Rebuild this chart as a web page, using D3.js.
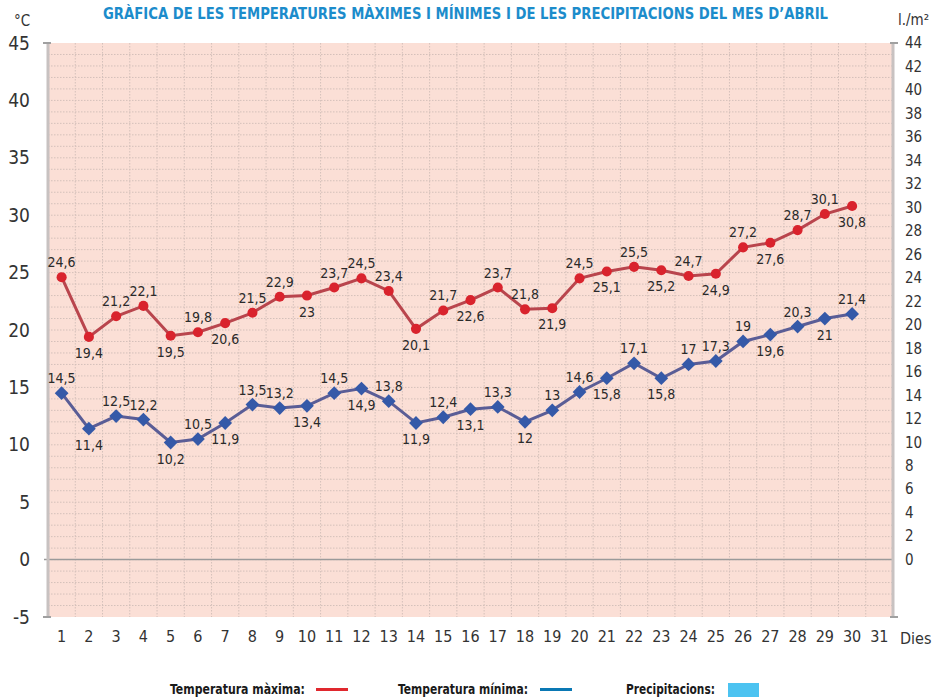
<!DOCTYPE html>
<html>
<head>
<meta charset="utf-8">
<script src="https://cdn.jsdelivr.net/npm/d3@7"></script>
<style>
  body { margin: 0; background: #fff; }
  svg text { font-family: "Liberation Sans Narrow", "DejaVu Sans Condensed", "Roboto", sans-serif; }
</style>
</head>
<body>
<svg id="chart" width="932" height="697"></svg>
<script>
// Days of the month (x categories)
const days = d3.range(1, 32);

// Maximum temperatures (days 1-30)
const tempMax = [24.6, 19.4, 21.2, 22.1, 19.5, 19.8, 20.6, 21.5, 22.9, 23,
                 23.7, 24.5, 23.4, 20.1, 21.7, 22.6, 23.7, 21.8, 21.9, 24.5,
                 25.1, 25.5, 25.2, 24.7, 24.9, 27.2, 27.6, 28.7, 30.1, 30.8];
// label placement: 1 = above, 0 = below
const maxAbove = [1, 0, 1, 1, 0, 1, 0, 1, 1, 0,
                  1, 1, 1, 0, 1, 0, 1, 1, 0, 1,
                  0, 1, 0, 1, 0, 1, 0, 1, 1, 0];

// Minimum temperatures (days 1-30)
const tempMin = [14.5, 11.4, 12.5, 12.2, 10.2, 10.5, 11.9, 13.5, 13.2, 13.4,
                 14.5, 14.9, 13.8, 11.9, 12.4, 13.1, 13.3, 12, 13, 14.6,
                 15.8, 17.1, 15.8, 17, 17.3, 19, 19.6, 20.3, 21, 21.4];
const minAbove = [1, 0, 1, 1, 0, 1, 0, 1, 1, 0,
                  1, 0, 1, 0, 1, 0, 1, 0, 1, 1,
                  0, 1, 0, 1, 1, 1, 0, 1, 0, 1];

// Axis ticks
const tempTicks = [-5, 0, 5, 10, 15, 20, 25, 30, 35, 40, 45];
const rainTicks = d3.range(0, 45, 2);

const legendItems = [
  { label: "Temperatura màxima:", type: "line", color: "#e0282e" },
  { label: "Temperatura mínima:", type: "line", color: "#0a78b4" },
  { label: "Precipitacions:", type: "rect", color: "#4cc3f1" }
];

const svg = d3.select("#chart");
const margin = { top: 43, right: 39, bottom: 80, left: 48 };
const width = 932, height = 697;

const x = d3.scaleBand()
  .domain(days)
  .range([margin.left, width - margin.right])
  .padding(0);

const y = d3.scaleLinear()
  .domain([-5, 45])
  .range([height - margin.bottom, margin.top]);

const yRain = d3.scaleLinear()
  .domain([0, 44])
  .range([y(0), y(45)]);

const cx = d => x(d) + x.bandwidth() / 2;

// Title
svg.append("text")
  .attr("x", 103).attr("y", 19)
  .attr("font-size", 16).attr("font-weight", "bold")
  .attr("fill", "#1c8ccb")
  .attr("textLength", 725).attr("lengthAdjust", "spacingAndGlyphs")
  .text("GRÀFICA DE LES TEMPERATURES MÀXIMES I MÍNIMES I DE LES PRECIPITACIONS DEL MES D’ABRIL");

// Plot background
svg.append("rect")
  .attr("x", margin.left).attr("y", y(45))
  .attr("width", width - margin.right - margin.left)
  .attr("height", y(-5) - y(45))
  .attr("fill", "#fbdfd6");

// Horizontal grid every degree
const grid = svg.append("g");
grid.selectAll(".hg")
  .data(d3.range(-4, 45))
  .join("line")
    .attr("x1", margin.left).attr("x2", width - margin.right)
    .attr("y1", d => y(d)).attr("y2", d => y(d))
    .attr("stroke", "#d4c0ba").attr("stroke-width", 1)
    .attr("stroke-dasharray", "1.5,1.5");

// Vertical grid between days
grid.selectAll(".vg")
  .data(days.slice(1))
  .join("line")
    .attr("x1", d => x(d)).attr("x2", d => x(d))
    .attr("y1", y(45)).attr("y2", y(-5))
    .attr("stroke", "#d4c0ba").attr("stroke-width", 1)
    .attr("stroke-dasharray", "1.5,1.5");

// Zero line
svg.append("line")
  .attr("x1", margin.left - 4).attr("x2", width - margin.right)
  .attr("y1", y(0)).attr("y2", y(0))
  .attr("stroke", "#9a9a9a").attr("stroke-width", 1.5);

// Axis frames
svg.append("line")
  .attr("x1", margin.left).attr("x2", margin.left)
  .attr("y1", y(45)).attr("y2", y(-5))
  .attr("stroke", "#c8c2c1").attr("stroke-width", 3);
svg.append("line")
  .attr("x1", width - margin.right).attr("x2", width - margin.right)
  .attr("y1", y(45)).attr("y2", y(-5))
  .attr("stroke", "#c8c2c1").attr("stroke-width", 3);
[45, -5].forEach(v => {
  svg.append("line")
    .attr("x1", margin.left - 5).attr("x2", margin.left + 3)
    .attr("y1", y(v)).attr("y2", y(v))
    .attr("stroke", "#a0a0a0").attr("stroke-width", 2);
  svg.append("line")
    .attr("x1", width - margin.right - 3).attr("x2", width - margin.right + 5)
    .attr("y1", y(v)).attr("y2", y(v))
    .attr("stroke", "#a0a0a0").attr("stroke-width", 2);
});

// Left axis
const leftAxis = svg.append("g")
  .attr("transform", `translate(${margin.left},0)`)
  .call(d3.axisLeft(y).tickValues(tempTicks).tickFormat(d => String(d)).tickSize(0).tickPadding(18));
leftAxis.select(".domain").remove();
leftAxis.selectAll("text")
  .attr("font-size", 19).attr("fill", "#333")
  .style("font-family", "\"Liberation Sans Narrow\", \"DejaVu Sans Condensed\", sans-serif");

svg.append("text")
  .attr("x", 14).attr("y", 26)
  .attr("font-size", 15).attr("fill", "#333")
  .text("°C");

// Right axis
const rightAxis = svg.append("g")
  .attr("transform", `translate(${width - margin.right},0)`)
  .call(d3.axisRight(yRain).tickValues(rainTicks).tickSize(0).tickPadding(12));
rightAxis.select(".domain").remove();
rightAxis.selectAll("text")
  .attr("font-size", 15).attr("fill", "#333")
  .style("font-family", "\"Liberation Sans Narrow\", \"DejaVu Sans Condensed\", sans-serif");

svg.append("text")
  .attr("x", 898).attr("y", 25)
  .attr("font-size", 15).attr("fill", "#333")
  .text("l./m²");

// Bottom axis
const bottomAxis = svg.append("g")
  .attr("transform", `translate(0,${y(-5)})`)
  .call(d3.axisBottom(x).tickSize(0).tickPadding(14));
bottomAxis.select(".domain").remove();
bottomAxis.selectAll("text")
  .attr("font-size", 16).attr("fill", "#333")
  .style("font-family", "\"Liberation Sans Narrow\", \"DejaVu Sans Condensed\", sans-serif");

svg.append("text")
  .attr("x", 900).attr("y", 644)
  .attr("font-size", 16).attr("fill", "#333")
  .text("Dies");

// Series
const fmt = v => String(v).replace(".", ",");

function drawSeries(values, above, lineColor, markColor, shape) {
  const pts = values.map((v, i) => ({ day: days[i], v, up: above[i] }));
  const line = d3.line().x(d => cx(d.day)).y(d => y(d.v));
  svg.append("path")
    .datum(pts)
    .attr("d", line)
    .attr("fill", "none")
    .attr("stroke", lineColor)
    .attr("stroke-width", 3);

  const sym = d3.symbol().type(shape).size(shape === d3.symbolCircle ? 80 : 95);
  svg.append("g").selectAll("path")
    .data(pts)
    .join("path")
      .attr("transform", d => `translate(${cx(d.day)},${y(d.v)})` + (shape === d3.symbolSquare ? " rotate(45)" : ""))
      .attr("d", sym)
      .attr("fill", markColor);

  svg.append("g").selectAll("text")
    .data(pts)
    .join("text")
      .attr("x", d => cx(d.day))
      .attr("y", d => y(d.v) + (d.up ? -10 : 21))
      .attr("text-anchor", "middle")
      .attr("font-size", 14).attr("fill", "#2a2a2a")
      .text(d => fmt(d.v));
}

drawSeries(tempMax, maxAbove, "#b9454d", "#d9232d", d3.symbolCircle);
drawSeries(tempMin, minAbove, "#5a5d96", "#3559a8", d3.symbolSquare);

// Legend
const legendX = [170, 398, 626];
const legendW = [135, 130, 89];
const legendMark = [316, 540, 728];
legendItems.forEach((item, i) => {
  const g = svg.append("g").attr("transform", `translate(0,694)`);
  g.append("text")
    .attr("x", legendX[i])
    .attr("font-size", 14).attr("font-weight", "bold").attr("fill", "#1a1a1a")
    .attr("textLength", legendW[i]).attr("lengthAdjust", "spacingAndGlyphs")
    .text(item.label);
  if (item.type === "line") {
    g.append("rect").attr("x", legendMark[i]).attr("y", -6).attr("width", 32).attr("height", 3)
      .attr("fill", item.color);
  } else {
    g.append("rect").attr("x", legendMark[i]).attr("y", -11).attr("width", 31).attr("height", 15)
      .attr("fill", item.color);
  }
});
</script>
</body>
</html>
